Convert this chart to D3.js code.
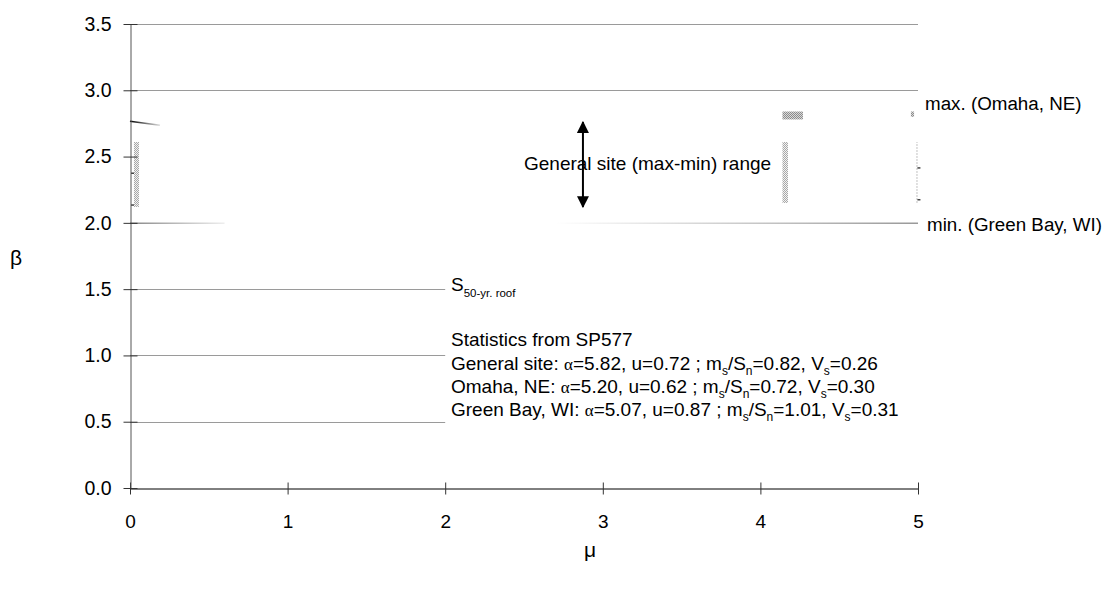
<!DOCTYPE html>
<html>
<head>
<meta charset="utf-8">
<script src="https://cdn.jsdelivr.net/npm/d3@7"></script>
<style>
  body { margin: 0; background: #fff; }
  svg { display: block; font-family: "Liberation Sans", Arial, sans-serif; }
</style>
</head>
<body>
<svg id="chart"></svg>
<script>
// data
const xTicks = [0, 1, 2, 3, 4, 5];
const yTicks = [0, 0.5, 1.0, 1.5, 2.0, 2.5, 3.0, 3.5];
const fullGrid = [3.0, 3.5];
const partGrid = [0.5, 1.0, 1.5];   // hidden behind the text box from mu=2
const maxCurve = [[0, 2.77], [0.19, 2.74]];            // visible part of Omaha curve
const minCurveLeft = [[0, 2.0], [0.6, 2.0]];
const minCurveRight = [[2.7, 2.0], [5, 2.0]];
const rangeArrow = [2.874, 2.76, 2.12];                // mu, top, bottom
const hatchBars = [
  { x0: 0.025, x1: 0.057, y0: 2.12, y1: 2.61, kind: "dot" },
  { x0: 4.14, x1: 4.175, y0: 2.15, y1: 2.61, kind: "dot" },
  { x0: 4.14, x1: 4.27, y0: 2.78, y1: 2.84, kind: "dark" },
  { x0: 4.955, x1: 4.975, y0: 2.80, y1: 2.84, kind: "dark" },
  { x0: 4.99, x1: 4.997, y0: 2.15, y1: 2.61, kind: "thin" }
];
const axisDots = [[0, 2.38], [0, 2.14], [4.99, 2.42], [4.99, 2.18]];
const statLines = [
  ["General site: ", "5.82", "0.72", "0.82", "0.26"],
  ["Omaha, NE: ", "5.20", "0.62", "0.72", "0.30"],
  ["Green Bay, WI: ", "5.07", "0.87", "1.01", "0.31"]
];

const w = 1107, h = 593;
const svg = d3.select("#chart").attr("width", w).attr("height", h);

const x = d3.scaleLinear().domain([0, 5]).range([130, 918]);
const y = d3.scaleLinear().domain([0, 3.5]).range([488, 24]);

const defs = svg.append("defs");

// hatch patterns
function checker(id, bg, fg) {
  const p = defs.append("pattern").attr("id", id)
    .attr("width", 2).attr("height", 2).attr("patternUnits", "userSpaceOnUse");
  p.append("rect").attr("width", 2).attr("height", 2).attr("fill", bg);
  p.append("rect").attr("width", 1).attr("height", 1).attr("fill", fg);
  p.append("rect").attr("x", 1).attr("y", 1).attr("width", 1).attr("height", 1).attr("fill", fg);
}
checker("hatchdot", "#f2f2f2", "#a8a8a8");
checker("hatchdark", "#d8d8d8", "#8c8c8c");
const pat2 = defs.append("pattern").attr("id", "hatchthin")
  .attr("width", 2).attr("height", 3).attr("patternUnits", "userSpaceOnUse");
pat2.append("rect").attr("width", 2).attr("height", 2).attr("fill", "#c8c8c8");
const fills = { dot: "url(#hatchdot)", dark: "url(#hatchdark)", thin: "url(#hatchthin)" };

function fade(id, x1, x2, c1, c2) {
  const g = defs.append("linearGradient").attr("id", id)
    .attr("gradientUnits", "userSpaceOnUse")
    .attr("x1", x1).attr("x2", x2).attr("y1", 0).attr("y2", 0);
  g.append("stop").attr("offset", 0).attr("stop-color", c1);
  g.append("stop").attr("offset", 1).attr("stop-color", c2);
}
fade("fadeMax", x(0), x(0.19), "#000", "#ddd");
fade("fadeMinL", x(0), x(0.6), "#888", "#eee");
fade("fadeMinR", x(2.7), x(5), "#fff", "#999");

// gridlines
svg.append("g").selectAll("line").data(fullGrid).join("line")
  .attr("x1", x(0)).attr("x2", x(5))
  .attr("y1", d => Math.round(y(d)) + 0.5).attr("y2", d => Math.round(y(d)) + 0.5)
  .attr("stroke", "#9a9a9a");
svg.append("g").selectAll("line").data(partGrid).join("line")
  .attr("x1", x(0)).attr("x2", x(2))
  .attr("y1", d => Math.round(y(d)) + 0.5).attr("y2", d => Math.round(y(d)) + 0.5)
  .attr("stroke", "#9a9a9a");

// curves
const line = d3.line().x(d => x(d[0])).y(d => y(d[1]) + 0.5);
svg.append("path").attr("d", line(maxCurve)).attr("fill", "none")
  .attr("stroke", "url(#fadeMax)").attr("stroke-width", 1.5);
svg.append("path").attr("d", line(minCurveLeft)).attr("fill", "none")
  .attr("stroke", "url(#fadeMinL)").attr("stroke-width", 1.5);
svg.append("path").attr("d", line(minCurveRight)).attr("fill", "none")
  .attr("stroke", "url(#fadeMinR)").attr("stroke-width", 1.5);

// hatch bars
svg.append("g").selectAll("rect").data(hatchBars).join("rect")
  .attr("x", d => x(d.x0)).attr("width", d => Math.max(1, x(d.x1) - x(d.x0)))
  .attr("y", d => y(d.y1)).attr("height", d => y(d.y0) - y(d.y1))
  .attr("fill", d => fills[d.kind]);

svg.append("g").selectAll("rect").data(axisDots).join("rect")
  .attr("x", d => x(d[0]) + 1).attr("y", d => y(d[1]))
  .attr("width", 3).attr("height", 1.5).attr("fill", "#444");

// axes
const xAxis = d3.axisBottom(x).tickValues(xTicks).tickFormat(d3.format("d"))
  .tickSizeInner(6).tickSizeOuter(0).tickPadding(20);
const gx = svg.append("g").attr("transform", `translate(0,${y(0) + 0.5})`).call(xAxis);
gx.select(".domain").attr("stroke", "#000");
gx.selectAll(".tick line").attr("y1", -6).attr("y2", 6).attr("stroke", "#333");
gx.selectAll("text").attr("font-size", 19).attr("font-family", "Liberation Sans, Arial, sans-serif").attr("fill", "#000");

const yAxis = d3.axisLeft(y).tickValues(yTicks).tickFormat(d3.format(".1f"))
  .tickSizeInner(7).tickSizeOuter(0).tickPadding(12);
const gy = svg.append("g").attr("transform", `translate(${x(0) + 0.5},0)`).call(yAxis);
gy.select(".domain").attr("stroke", "#555");
gy.selectAll(".tick line").attr("x1", -7).attr("x2", 7).attr("stroke", "#333");
gy.selectAll("text").attr("font-size", 19.5)
  .attr("font-family", "Liberation Sans, Arial, sans-serif").attr("fill", "#000");

// axis titles
svg.append("text").attr("x", 16).attr("y", 265).attr("text-anchor", "middle")
  .attr("font-size", 21).text("β");
svg.append("text").attr("x", 590).attr("y", 557).attr("text-anchor", "middle")
  .attr("font-size", 21).text("μ");

// range arrow
defs.append("marker").attr("id", "arr").attr("viewBox", "0 0 10 10")
  .attr("refX", 9).attr("refY", 5).attr("markerWidth", 12).attr("markerHeight", 12)
  .attr("markerUnits", "userSpaceOnUse").attr("orient", "auto-start-reverse")
  .append("path").attr("d", "M0,0 L10,5 L0,10 Z").attr("fill", "#000");
svg.append("line")
  .attr("x1", x(rangeArrow[0])).attr("x2", x(rangeArrow[0]))
  .attr("y1", y(rangeArrow[1])).attr("y2", y(rangeArrow[2]))
  .attr("stroke", "#000").attr("stroke-width", 2)
  .attr("marker-start", "url(#arr)").attr("marker-end", "url(#arr)");
svg.append("text").attr("x", 524).attr("y", 170).attr("font-size", 19)
  .text("General site (max-min) range");

// side labels
svg.append("text").attr("x", 925).attr("y", 110).attr("font-size", 18.8).text("max. (Omaha, NE)");
svg.append("text").attr("x", 927).attr("y", 231).attr("font-size", 18.8).text("min. (Green Bay, WI)");

// stats block
const fs = 19;
const s = svg.append("text").attr("x", 451).attr("y", 291).attr("font-size", fs);
s.append("tspan").text("S");
s.append("tspan").attr("dy", 6).attr("font-size", 11.5).text("50-yr. roof");

svg.append("text").attr("x", 451).attr("y", 346).attr("font-size", fs)
  .text("Statistics from SP577");

statLines.forEach((r, i) => {
  const t = svg.append("text").attr("x", 451).attr("y", 370 + i * 22.8).attr("font-size", fs);
  t.append("tspan").text(r[0]);
  t.append("tspan").attr("font-family", "Liberation Serif, serif").attr("font-size", 17).text("α");
  t.append("tspan").text(`=${r[1]}, u=${r[2]} ; m`);
  t.append("tspan").attr("dy", 5).attr("font-size", 12).text("s");
  t.append("tspan").attr("dy", -5).text("/S");
  t.append("tspan").attr("dy", 5).attr("font-size", 12).text("n");
  t.append("tspan").attr("dy", -5).text(`=${r[3]}, V`);
  t.append("tspan").attr("dy", 5).attr("font-size", 12).text("s");
  t.append("tspan").attr("dy", -5).text(`=${r[4]}`);
});
</script>
</body>
</html>
